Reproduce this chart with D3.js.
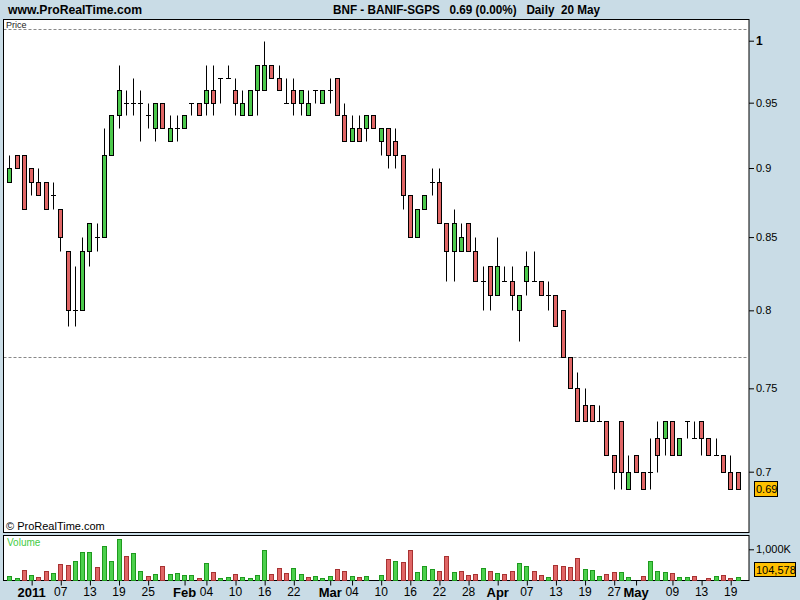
<!DOCTYPE html>
<html><head><meta charset="utf-8">
<script src="https://cdn.jsdelivr.net/npm/d3@7"></script>
<style>
html,body{margin:0;padding:0;background:#C9DCE6;}
text{font-family:"Liberation Sans",Arial,sans-serif;}
</style></head>
<body>
<svg id="c" width="800" height="600"></svg>
<script>
const dates = [
"2010-12-29","2010-12-30","2010-12-31",
"2011-01-03","2011-01-04","2011-01-05","2011-01-06","2011-01-07","2011-01-10","2011-01-11","2011-01-12","2011-01-13","2011-01-14","2011-01-17","2011-01-18","2011-01-19","2011-01-20","2011-01-21","2011-01-24","2011-01-25","2011-01-26","2011-01-27","2011-01-28","2011-01-31",
"2011-02-01","2011-02-02","2011-02-03","2011-02-04","2011-02-07","2011-02-08","2011-02-09","2011-02-10","2011-02-11","2011-02-14","2011-02-15","2011-02-16","2011-02-17","2011-02-18","2011-02-21","2011-02-22","2011-02-23","2011-02-24","2011-02-25","2011-02-28",
"2011-03-01","2011-03-02","2011-03-03","2011-03-04","2011-03-07","2011-03-08","2011-03-09","2011-03-10","2011-03-11","2011-03-14","2011-03-15","2011-03-16","2011-03-17","2011-03-18","2011-03-21","2011-03-22","2011-03-23","2011-03-24","2011-03-25","2011-03-28","2011-03-29","2011-03-30","2011-03-31",
"2011-04-01","2011-04-04","2011-04-05","2011-04-06","2011-04-07","2011-04-08","2011-04-11","2011-04-12","2011-04-13","2011-04-14","2011-04-15","2011-04-18","2011-04-19","2011-04-20","2011-04-21","2011-04-26","2011-04-27","2011-04-28","2011-04-29",
"2011-05-02","2011-05-03","2011-05-04","2011-05-05","2011-05-06","2011-05-09","2011-05-10","2011-05-11","2011-05-12","2011-05-13","2011-05-16","2011-05-17","2011-05-18","2011-05-19","2011-05-20"
];
const open  = [.89,.91,.91,.90,.89,.89,.88,.87,.84,.80,.80,.84,.85,.85,.91,.94,.95,.95,.95,.94,.93,.95,.92,.93,.93,.95,.95,.95,.96,.97,.97,.96,.94,.94,.96,.96,.98,.97,.95,.96,.95,.94,.96,.95,.96,.97,.94,.92,.93,.93,.94,.92,.93,.92,.91,.88,.85,.87,.89,.89,.86,.84,.84,.86,.84,.82,.83,.81,.82,.82,.80,.82,.82,.82,.81,.81,.80,.77,.75,.74,.74,.73,.73,.71,.73,.69,.71,.70,.70,.72,.72,.73,.71,.73,.72,.73,.72,.71,.71,.70,.70];
const high  = [.91,.91,.91,.90,.90,.89,.89,.87,.84,.83,.85,.86,.86,.93,.94,.98,.96,.97,.96,.95,.95,.95,.94,.94,.94,.95,.95,.98,.98,.97,.98,.97,.96,.96,.98,1.00,.98,.98,.97,.97,.96,.96,.96,.96,.97,.97,.95,.94,.94,.94,.94,.93,.93,.93,.91,.88,.87,.88,.90,.90,.86,.87,.86,.86,.85,.83,.83,.85,.83,.83,.81,.84,.84,.82,.82,.81,.80,.77,.76,.75,.74,.74,.73,.71,.73,.71,.71,.70,.72,.73,.73,.73,.72,.73,.73,.73,.72,.72,.71,.71,.70];
const low   = [.89,.90,.87,.88,.88,.87,.87,.84,.79,.79,.80,.83,.84,.85,.91,.93,.94,.94,.92,.93,.92,.93,.92,.92,.93,.94,.94,.94,.94,.95,.97,.94,.94,.94,.94,.96,.97,.96,.95,.94,.94,.94,.95,.95,.95,.94,.92,.92,.92,.92,.93,.91,.90,.90,.87,.85,.85,.87,.88,.86,.82,.82,.84,.84,.82,.80,.80,.81,.82,.80,.78,.81,.82,.81,.80,.79,.77,.75,.73,.73,.73,.73,.71,.69,.69,.69,.70,.69,.69,.70,.71,.71,.71,.72,.72,.71,.71,.71,.70,.69,.69];
const close = [.90,.90,.87,.89,.88,.87,.88,.85,.80,.80,.84,.86,.85,.91,.94,.96,.95,.95,.95,.94,.95,.93,.93,.93,.94,.95,.94,.96,.95,.97,.97,.95,.95,.96,.98,.98,.97,.96,.95,.95,.96,.95,.96,.96,.96,.94,.92,.93,.92,.94,.93,.93,.91,.91,.88,.85,.87,.88,.89,.86,.84,.86,.85,.84,.82,.82,.81,.83,.82,.81,.81,.83,.82,.81,.81,.79,.77,.75,.73,.73,.73,.73,.71,.70,.70,.70,.70,.69,.70,.71,.73,.71,.72,.73,.72,.72,.71,.71,.70,.69,.69];
// volume in thousands of shares
const volume = [129,65,323,161,97,290,226,526,484,613,903,903,419,1097,613,1323,774,871,290,129,194,452,194,226,161,161,65,548,258,65,97,194,97,65,161,968,194,387,226,387,194,97,129,65,129,355,290,129,97,129,32,161,677,613,581,968,258,452,355,290,774,258,290,161,194,387,290,226,194,290,548,452,290,161,97,484,452,419,710,355,323,129,194,258,258,97,32,129,613,290,258,226,97,97,129,32,65,129,161,65,104.578];
const priceTicks = [0.7,0.75,0.8,0.85,0.9,0.95,1];
const refLines = [1.01,0.77];
const xTickDates = ["2011-01-03","2011-01-07","2011-01-13","2011-01-19","2011-01-25","2011-02-01","2011-02-04","2011-02-10","2011-02-16","2011-02-22","2011-03-01","2011-03-04","2011-03-10","2011-03-16","2011-03-22","2011-03-28","2011-04-01","2011-04-07","2011-04-13","2011-04-19","2011-04-27","2011-05-02","2011-05-09","2011-05-13","2011-05-19"];
const xTickLabels = ["2011","07","13","19","25","Feb","04","10","16","22","Mar","04","10","16","22","28","Apr","07","13","19","27","May","09","13","19"];
const boldLabels = ["2011","Feb","Mar","Apr","May"];

const svg = d3.select("#c");
const W = 800, H = 600;
const PL = 3.5, PR = 749, PT = 19.5, PB = 532.5, VT = 535.5, VB = 580.5;

svg.append("rect").attr("width",W).attr("height",H).attr("fill","#C9DCE6");

const data = dates.map((d,i)=>({d, o:open[i], h:high[i], l:low[i], c:close[i], v:volume[i],
  up: i===0 ? true : close[i] >= close[i-1]}));

const x = d3.scalePoint().domain(dates).range([9.3, 737.5]);
const y = d3.scaleLog().domain([0.7, 1]).range([471.7, 40.7]);
const yv = d3.scaleLinear().domain([0, 1000]).range([VB, 549.3]);

// header
svg.append("text").attr("x",8).attr("y",14).attr("font-size",13).attr("font-weight","bold")
  .attr("textLength",134).attr("lengthAdjust","spacingAndGlyphs").text("www.ProRealTime.com");
svg.append("text").attr("x",333).attr("y",14).attr("font-size",13).attr("font-weight","bold")
  .attr("textLength",267).attr("lengthAdjust","spacingAndGlyphs").style("white-space","pre")
  .text("BNF - BANIF-SGPS   0.69 (0.00%)   Daily  20 May");

// price panel
svg.append("rect").attr("x",PL).attr("y",PT).attr("width",PR-PL).attr("height",PB-PT)
  .attr("fill","#fff").attr("stroke","#000").attr("stroke-width",1);
svg.append("defs").append("clipPath").attr("id","pc").append("rect")
  .attr("x",PL+0.5).attr("y",PT+0.5).attr("width",PR-PL-1).attr("height",PB-PT-1);

svg.append("text").attr("x",6).attr("y",28).attr("font-size",9).attr("fill","#222").text("Price");

const pg = svg.append("g").attr("clip-path","url(#pc)");
pg.selectAll("line.ref").data(refLines).join("line").attr("class","ref")
  .attr("x1",PL).attr("x2",PR).attr("y1",d=>Math.round(y(d))+0.5).attr("y2",d=>Math.round(y(d))+0.5)
  .attr("stroke","#888").attr("stroke-dasharray","3,2");

const cx = d => Math.round(x(d.d)) + 0.5;
const ry = v => Math.round(y(v)) + 0.5;
pg.selectAll("line.wick").data(data).join("line").attr("class","wick")
  .attr("x1",cx).attr("x2",cx).attr("y1",d=>ry(d.h)).attr("y2",d=>ry(d.l))
  .attr("stroke","#000").attr("stroke-width",1);
pg.selectAll("rect.body").data(data.filter(d=>d.o!==d.c)).join("rect").attr("class","body")
  .attr("x",d=>cx(d)-2).attr("width",4)
  .attr("y",d=>ry(Math.max(d.o,d.c))).attr("height",d=>ry(Math.min(d.o,d.c))-ry(Math.max(d.o,d.c)))
  .attr("fill",d=>d.c>d.o?"#4CC94C":"#E06666").attr("stroke","#000").attr("stroke-width",1);
pg.selectAll("line.doji").data(data.filter(d=>d.o===d.c)).join("line").attr("class","doji")
  .attr("x1",d=>cx(d)-2.5).attr("x2",d=>cx(d)+2.5).attr("y1",d=>ry(d.o)).attr("y2",d=>ry(d.o))
  .attr("stroke","#000").attr("stroke-width",1);

svg.append("text").attr("x",6).attr("y",530).attr("font-size",11).text("© ProRealTime.com");

// price axis
const ya = svg.append("g").attr("transform",`translate(${PR},0)`)
  .call(d3.axisRight(y).tickValues(priceTicks).tickSize(5).tickPadding(2)
    .tickFormat(d=>d===1?"1":d3.format("")(d)));
ya.select(".domain").remove();
ya.selectAll(".tick line").attr("stroke","#000");
ya.selectAll(".tick text").attr("font-size",11).attr("fill","#000")
  .attr("font-family","Liberation Sans, Arial, sans-serif")
  .attr("font-weight",d=>d===1?"bold":"normal").attr("font-size",d=>d===1?12:11);

// last price box
const lastP = close[close.length-1];
svg.append("rect").attr("x",754.5).attr("y",Math.round(y(lastP))-7.5).attr("width",23).attr("height",15)
  .attr("fill","#FFC000").attr("stroke","#000");
svg.append("text").attr("x",756).attr("y",Math.round(y(lastP))+4).attr("font-size",11).text(d3.format(".2f")(lastP));

// volume panel
svg.append("rect").attr("x",PL).attr("y",VT).attr("width",PR-PL).attr("height",VB-VT)
  .attr("fill","#fff").attr("stroke","#000");
svg.append("text").attr("x",7).attr("y",546).attr("font-size",10).attr("fill","#44CC44").text("Volume");
const vg = svg.append("g");
vg.selectAll("rect.vol").data(data).join("rect").attr("class","vol")
  .attr("x",d=>cx(d)-2).attr("width",4)
  .attr("y",d=>Math.round(yv(d.v))+0.5).attr("height",d=>Math.max(0,VB-Math.round(yv(d.v))-0.5))
  .attr("fill",d=>d.up?"#4CD04C":"#E06666").attr("stroke",d=>d.up?"#1E9A1E":"#A83232");
const va = svg.append("g").attr("transform",`translate(${PR},0)`)
  .call(d3.axisRight(yv).tickValues([1000]).tickSize(5).tickPadding(2).tickFormat(d=>d3.format(",")(d)+"K"));
va.select(".domain").remove();
va.selectAll(".tick text").attr("font-size",11).attr("fill","#000").attr("font-family","Liberation Sans, Arial, sans-serif");
const lastV = volume[volume.length-1];
svg.append("rect").attr("x",754.5).attr("y",562.5).attr("width",41).attr("height",14)
  .attr("fill","#FFC000").attr("stroke","#000");
svg.append("text").attr("x",756).attr("y",574).attr("font-size",11).text(d3.format(",")(Math.round(lastV*1000)));

// x axis
const xa = svg.append("g").attr("transform",`translate(0,${VB})`)
  .call(d3.axisBottom(x).tickValues(xTickDates).tickSize(5).tickPadding(2)
    .tickFormat(d=>xTickLabels[xTickDates.indexOf(d)]));
xa.select(".domain").remove();
xa.selectAll(".tick line").attr("stroke","#000").attr("transform","translate(0.5,0)");
xa.selectAll(".tick text").attr("font-family","Liberation Sans, Arial, sans-serif").attr("fill","#000")
  .attr("font-size",d=>boldLabels.includes(xTickLabels[xTickDates.indexOf(d)])?13:12)
  .attr("font-weight",d=>boldLabels.includes(xTickLabels[xTickDates.indexOf(d)])?"bold":"normal");
</script>
</body></html>
